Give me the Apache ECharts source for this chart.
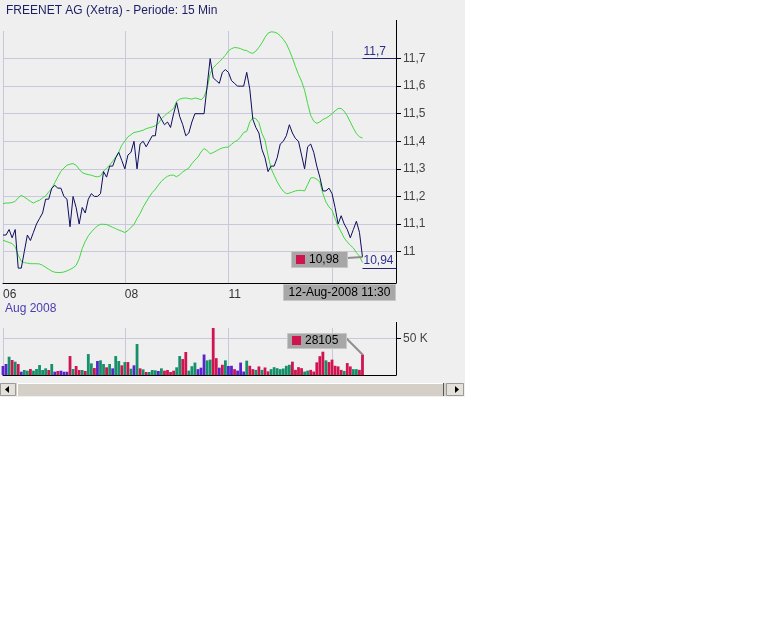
<!DOCTYPE html>
<html><head><meta charset="utf-8">
<script src="https://cdn.jsdelivr.net/npm/echarts@6/dist/echarts.min.js"></script>
<style>
html,body{margin:0;padding:0;background:#fff;}
#panel{position:absolute;left:0;top:0;width:465px;height:397px;background:#efefef;}
#chart{position:absolute;left:0;top:0;width:775px;height:621px;}
</style></head><body>
<div id="panel"></div><div id="chart"></div>
<script>
// ---------- data ----------
const titleText = 'FREENET AG (Xetra) - Periode: 15 Min';
const dayLabels = ['06-Aug-2008','07-Aug-2008','08-Aug-2008','11-Aug-2008','12-Aug-2008'];
const dayFirstSlot = [28, 0, 0, 0, 0];
const daySlotCount = [6, 34, 34, 34, 22];
const xTickIdx = [0, 40, 74, 108];
const xTickLabels = ['06', '08', '11', '12'];
const monthLabel = 'Aug 2008';
const priceTicks = [11.0, 11.1, 11.2, 11.3, 11.4, 11.5, 11.6, 11.7];
const priceTickLabels = ['11', '11,1', '11,2', '11,3', '11,4', '11,5', '11,6', '11,7'];
const volTicks = [50000];
const volTickLabels = ['50 K'];

const price = [
 11.06, 11.06, 11.08, 11.05, 11.08, 10.94, 10.94, 11.00, 11.06, 11.04,
 11.07, 11.10, 11.12, 11.14, 11.19, 11.19, 11.23, 11.24, 11.23, 11.23,
 11.20, 11.19, 11.09, 11.20, 11.16, 11.10, 11.16, 11.14, 11.19, 11.21,
 11.20, 11.20, 11.21, 11.29, 11.27, 11.31, 11.31, 11.34, 11.36, 11.33,
 11.30, 11.35, 11.36, 11.40, 11.30, 11.39, 11.40, 11.38, 11.40, 11.42,
 11.42, 11.50, 11.48, 11.46, 11.47, 11.45, 11.50, 11.54, 11.49, 11.46,
 11.42, 11.43, 11.47, 11.50, 11.50, 11.50, 11.50, 11.60, 11.70, 11.63,
 11.62, 11.61, 11.65, 11.66, 11.65, 11.62, 11.61, 11.60, 11.60, 11.60,
 11.65, 11.59, 11.48, 11.45, 11.43, 11.37, 11.34, 11.29, 11.31, 11.31,
 11.34, 11.39, 11.40, 11.42, 11.46, 11.43, 11.41, 11.40, 11.35, 11.30,
 11.38, 11.39, 11.36, 11.31, 11.27, 11.22, 11.22, 11.23, 11.21, 11.16,
 11.10, 11.13, 11.10, 11.08, 11.05, 11.08, 11.11, 11.07, 10.98];

const upperBand = [
 11.174, 11.176, 11.176, 11.178, 11.182, 11.195, 11.204, 11.198, 11.190, 11.182,
 11.176, 11.182, 11.186, 11.195, 11.202, 11.216, 11.228, 11.250, 11.271, 11.291,
 11.303, 11.313, 11.317, 11.319, 11.313, 11.299, 11.286, 11.282, 11.279, 11.277,
 11.273, 11.271, 11.274, 11.291, 11.303, 11.313, 11.328, 11.343, 11.361, 11.386,
 11.401, 11.416, 11.424, 11.432, 11.434, 11.437, 11.440, 11.446, 11.449, 11.452,
 11.456, 11.464, 11.482, 11.492, 11.502, 11.510, 11.519, 11.545, 11.553, 11.556,
 11.557, 11.555, 11.553, 11.557, 11.555, 11.550, 11.561, 11.591, 11.646, 11.666,
 11.678, 11.688, 11.700, 11.712, 11.728, 11.736, 11.740, 11.739, 11.736, 11.731,
 11.729, 11.722, 11.719, 11.727, 11.741, 11.757, 11.777, 11.792, 11.797, 11.796,
 11.792, 11.783, 11.770, 11.754, 11.730, 11.702, 11.671, 11.642, 11.618, 11.585,
 11.537, 11.494, 11.473, 11.465, 11.470, 11.479, 11.484, 11.491, 11.500, 11.510,
 11.519, 11.519, 11.509, 11.492, 11.470, 11.448, 11.428, 11.416, 11.412];

const lowerBand = [
 11.041, 11.037, 11.033, 11.029, 11.017, 10.987, 10.965, 10.960, 10.958, 10.956,
 10.956, 10.956, 10.955, 10.950, 10.943, 10.936, 10.929, 10.925, 10.924, 10.924,
 10.926, 10.930, 10.935, 10.941, 10.950, 10.974, 11.011, 11.037, 11.057, 11.071,
 11.083, 11.093, 11.099, 11.099, 11.098, 11.093, 11.088, 11.083, 11.078, 11.074,
 11.069, 11.076, 11.088, 11.098, 11.120, 11.138, 11.161, 11.180, 11.198, 11.214,
 11.226, 11.241, 11.255, 11.265, 11.273, 11.277, 11.277, 11.271, 11.279, 11.289,
 11.296, 11.303, 11.319, 11.332, 11.343, 11.361, 11.374, 11.366, 11.355, 11.359,
 11.365, 11.371, 11.376, 11.378, 11.379, 11.389, 11.398, 11.404, 11.416, 11.432,
 11.436, 11.470, 11.485, 11.482, 11.468, 11.428, 11.404, 11.349, 11.301, 11.277,
 11.253, 11.234, 11.219, 11.210, 11.212, 11.216, 11.220, 11.222, 11.222, 11.220,
 11.243, 11.267, 11.268, 11.262, 11.253, 11.210, 11.180, 11.162, 11.150, 11.120,
 11.092, 11.071, 11.049, 11.035, 11.023, 11.013, 10.996, 10.984, 10.960];

const volume = [
 12300, 15000, 25000, 20500, 18200, 15000, 4500, 6800, 5900, 8200,
 5900, 8200, 13600, 6800, 9100, 6800, 15000, 4500, 5500, 5900,
 4500, 4500, 25900, 8200, 12300, 6800, 6800, 5500, 28600, 15900,
 9500, 19100, 20000, 15000, 10500, 15000, 9100, 25900, 19100, 13200,
 17700, 17700, 8600, 13200, 42300, 9100, 7700, 4100, 4100, 6800,
 6400, 5500, 9100, 5900, 6800, 4100, 5900, 10500, 25900, 21800,
 31400, 6000, 12000, 17000, 8000, 10000, 28000, 20000, 21000, 64200,
 23000, 10000, 14000, 20000, 12300, 12600, 8000, 6000, 17000, 4700,
 19600, 12600, 8000, 7000, 11700, 7000, 10300, 5000, 8000, 10700,
 9300, 8000, 8900, 12600, 14000, 18200, 7000, 10700, 9300, 4700,
 6000, 7000, 4700, 17300, 25700, 31800, 20000, 17700, 21000, 12600,
 11700, 7000, 5600, 16300, 11700, 8000, 8000, 7000, 28105];

// direction of each volume bar: u = up, d = down, n = unchanged
const volDir = [
 'n','n','u','d','u','d','n','u','u','d',
 'u','u','u','u','u','d','u','n','d','n',
 'n','n','d','u','d','d','u','d','u','u',
 'd','n','u','u','d','u','n','u','u','d',
 'u','d','u','n','u','d','u','d','u','u',
 'u','n','u','d','d','d','d','u','u','d',
 'd','u','u','u','n','n','n','u','u','d',
 'd','n','d','u','n','n','d','n','n','n',
 'u','d','d','u','d','u','d','d','u','u',
 'u','u','u','u','u','d','d','d','d','u',
 'u','d','d','d','d','d','u','d','d','d',
 'd','d','u','d','d','u','u','d','d'];

// ---------- build ----------
function slotTime(s) {
  const m = 9 * 60 + s * 15;
  return String(Math.floor(m / 60)).padStart(2, '0') + ':' + String(m % 60).padStart(2, '0');
}
const categories = [];
dayLabels.forEach((d, k) => {
  for (let s = dayFirstSlot[k]; s < dayFirstSlot[k] + daySlotCount[k]; s++) categories.push(d + ' ' + slotTime(s));
});
const nCat = categories.length;
const lastIdx = price.length - 1;

const FONT = '"Liberation Sans", Arial, sans-serif';
const GRID = '#c8c8dc';
const GREEN = '#3fd83f';
const NAVY = '#0c0c5e';
const DIR_COLORS = {u: '#15906a', d: '#cf1450', n: '#5a24cc'};
const priceMin = 10.886, priceMax = 11.8;

const isTick = (idx) => xTickIdx.indexOf(idx) >= 0;
const fmtNum = v => String(+(+v).toFixed(2)).replace('.', ',');
const fmtPrice = v => { const k = priceTicks.findIndex(t => Math.abs(t - v) < 1e-6); return k < 0 ? '' : priceTickLabels[k]; };
const fmtVol = v => { const k = volTicks.findIndex(t => Math.abs(t - v) < 1e-6); return k < 0 ? '' : volTickLabels[k]; };
const hi = Math.max(...price), lo = Math.min(...price);

const chart = echarts.init(document.getElementById('chart'));
const option = {
  animation: false,
  backgroundColor: 'transparent',
  textStyle: {fontFamily: FONT},
  title: {text: titleText, left: 6, top: 5, padding: 0,
    textStyle: {fontSize: 12, fontWeight: 'normal', color: '#1e1e66', fontFamily: FONT}},
  grid: [
    {left: 3, top: 31, width: 393, height: 252},
    {left: 3, top: 328, width: 393, height: 47}
  ],
  xAxis: [
    {type: 'category', gridIndex: 0, data: categories, boundaryGap: false,
     axisLine: {lineStyle: {color: '#000', width: 1}}, axisTick: {show: false},
     axisLabel: {interval: isTick, align: 'left', margin: 5, color: '#333', fontSize: 12, fontFamily: FONT,
       formatter: (value) => {
         const k = xTickIdx.indexOf(categories.indexOf(value));
         if (k < 0) return '';
         return k === 0 ? '{d|' + xTickLabels[0] + '}\n{m|' + monthLabel + '}' : '{d|' + xTickLabels[k] + '}';
       },
       rich: {d: {fontSize: 12, lineHeight: 14, color: '#333', fontFamily: FONT},
              m: {fontSize: 12, lineHeight: 14, color: '#4b3cb0', fontFamily: FONT, padding: [0, 0, 0, 2]}}},
     splitLine: {show: true, interval: isTick, lineStyle: {color: GRID, width: 1}}},
    {type: 'category', gridIndex: 1, data: categories, boundaryGap: false,
     axisLine: {lineStyle: {color: '#000', width: 1}}, axisTick: {show: false}, axisLabel: {show: false},
     splitLine: {show: true, interval: isTick, lineStyle: {color: GRID, width: 1}}}
  ],
  yAxis: [
    {type: 'value', gridIndex: 0, position: 'right', min: priceMin, max: priceMax,
     minInterval: 0.1, maxInterval: 0.1, splitNumber: 9,
     axisLine: {show: true, lineStyle: {color: '#000', width: 1}},
     axisTick: {show: true, length: 5, lineStyle: {color: '#000'}, customValues: priceTicks},
     axisLabel: {formatter: fmtPrice, color: '#444', fontSize: 12, margin: 7, fontFamily: FONT, customValues: priceTicks},
     splitLine: {show: true, lineStyle: {color: GRID, width: 1}}},
    {type: 'value', gridIndex: 1, position: 'right', min: 0, max: 'dataMax',
     minInterval: 50000, maxInterval: 50000,
     axisLine: {show: true, lineStyle: {color: '#000', width: 1}},
     axisTick: {show: true, length: 5, lineStyle: {color: '#000'}, customValues: volTicks},
     axisLabel: {formatter: fmtVol, color: '#444', fontSize: 12, margin: 7, fontFamily: FONT, customValues: volTicks},
     splitLine: {show: true, lineStyle: {color: GRID, width: 1}}}
  ],
  series: [
    {name: 'upper', type: 'line', xAxisIndex: 0, yAxisIndex: 0, data: upperBand, symbol: 'none',
     lineStyle: {color: GREEN, width: 1}, silent: true},
    {name: 'lower', type: 'line', xAxisIndex: 0, yAxisIndex: 0, data: lowerBand, symbol: 'none',
     lineStyle: {color: GREEN, width: 1}, silent: true},
    {name: 'price', type: 'line', xAxisIndex: 0, yAxisIndex: 0, data: price, symbol: 'none',
     lineStyle: {color: NAVY, width: 1}, silent: true, z: 3,
     markLine: {silent: true, symbol: ['none', 'none'], animation: false,
       lineStyle: {color: '#23236e', width: 1, type: 'solid'},
       label: {show: true, position: 'insideStartTop', distance: 1, formatter: p => fmtNum(p.value),
               color: '#2e2e8a', fontSize: 12, fontFamily: FONT},
       emphasis: {disabled: true},
       data: [
         [{coord: [lastIdx, hi], value: hi}, {coord: [nCat - 1, hi]}],
         [{coord: [lastIdx, lo], value: lo}, {coord: [nCat - 1, lo]}]
       ]}},
    {name: 'volume', type: 'bar', xAxisIndex: 1, yAxisIndex: 1, data: volume, barWidth: 2.8, silent: true,
     itemStyle: {color: p => DIR_COLORS[volDir[p.dataIndex]]},
     markLine: {silent: true, symbol: ['none', 'none'], animation: false, z: 1,
       lineStyle: {color: GRID, width: 1, type: 'solid'}, label: {show: false}, emphasis: {disabled: true},
       data: volTicks.map(v => ({yAxis: v}))}}
  ]
};
chart.setOption(option);

// ---------- annotations placed from data ----------
const pP = chart.convertToPixel({xAxisIndex: 0, yAxisIndex: 0}, [lastIdx, price[lastIdx]]);
const pV = chart.convertToPixel({xAxisIndex: 1, yAxisIndex: 1}, [lastIdx, volume[lastIdx]]);
const pTop = chart.convertToPixel({xAxisIndex: 0, yAxisIndex: 0}, [nCat - 1, priceMax]);
const pBot = chart.convertToPixel({xAxisIndex: 0, yAxisIndex: 0}, [nCat - 1, priceMin]);
const vTop = chart.convertToPixel({xAxisIndex: 1, yAxisIndex: 1}, [nCat - 1, Math.max(...volume)]);
const ax = Math.round(pTop[0]) + 0.5;
const BOX = '#a7a7a7', BOXS = '#c6c6c6', RED = '#cf1450';
const txt = (x, y, text, align) => ({type: 'text', x: x, y: y, z: 110,
  style: {text: text, fill: '#000', fontSize: 12, fontFamily: FONT, verticalAlign: 'middle', align: align || 'left'}});

const bx = Math.round(pP[0]) - 71, by = Math.round(pP[1]) - 6;
const vx = Math.round(pV[0]) - 75, vy = Math.round(pV[1]) - 21;
const dx = Math.round(pBot[0]) - 113, dy = Math.round(pBot[1]) + 1;

const graphics = [
  {type: 'line', z: 100, shape: {x1: ax, y1: pTop[1] - 11, x2: ax, y2: pTop[1]}, style: {stroke: '#000', lineWidth: 1}},
  {type: 'line', z: 100, shape: {x1: ax, y1: vTop[1] - 6, x2: ax, y2: vTop[1]}, style: {stroke: '#000', lineWidth: 1}},
  // last price box
  {type: 'line', z: 105, shape: {x1: bx + 56, y1: by + 7, x2: pP[0], y2: pP[1]}, style: {stroke: '#8e8e8e', lineWidth: 2}},
  {type: 'rect', z: 106, shape: {x: bx + 0.5, y: by + 0.5, width: 56, height: 16}, style: {fill: BOX, stroke: BOXS, lineWidth: 1}},
  {type: 'rect', z: 107, shape: {x: bx + 5, y: by + 4, width: 9, height: 9}, style: {fill: RED}},
  txt(bx + 18, by + 8.5, fmtNum(price[lastIdx])),
  // last volume box
  {type: 'line', z: 105, shape: {x1: vx + 58, y1: vy + 4, x2: pV[0], y2: pV[1]}, style: {stroke: '#8e8e8e', lineWidth: 2}},
  {type: 'rect', z: 106, shape: {x: vx + 0.5, y: vy + 0.5, width: 59, height: 15}, style: {fill: BOX, stroke: BOXS, lineWidth: 1}},
  {type: 'rect', z: 107, shape: {x: vx + 5, y: vy + 3, width: 9, height: 9}, style: {fill: RED}},
  txt(vx + 18, vy + 8, String(volume[lastIdx])),
  // date box
  {type: 'rect', z: 106, shape: {x: dx + 0.5, y: dy + 0.5, width: 112, height: 16}, style: {fill: BOX, stroke: BOXS, lineWidth: 1}},
  txt(dx + 56.5, dy + 9, categories[lastIdx], 'center'),
  // scrollbar
  {type: 'rect', z: 90, shape: {x: 0, y: 383, width: 464, height: 13}, style: {fill: '#d4d0c8'}},
  {type: 'line', z: 91, shape: {x1: 17, y1: 383.5, x2: 444, y2: 383.5}, style: {stroke: '#ffffff', lineWidth: 1}},
  {type: 'line', z: 91, shape: {x1: 17.5, y1: 383, x2: 17.5, y2: 396}, style: {stroke: '#ffffff', lineWidth: 1}},
  {type: 'line', z: 91, shape: {x1: 443.5, y1: 383, x2: 443.5, y2: 396}, style: {stroke: '#555555', lineWidth: 1}},
  {type: 'rect', z: 91, shape: {x: 0.5, y: 383.5, width: 15, height: 12}, style: {fill: '#e4e1da', stroke: '#9a9a9a', lineWidth: 1}},
  {type: 'polygon', z: 92, shape: {points: [[5, 389.5], [9, 386], [9, 393]]}, style: {fill: '#000'}},
  {type: 'rect', z: 91, shape: {x: 446.5, y: 383.5, width: 17, height: 12}, style: {fill: '#e4e1da', stroke: '#9a9a9a', lineWidth: 1}},
  {type: 'polygon', z: 92, shape: {points: [[459, 389.5], [455, 386], [455, 393]]}, style: {fill: '#000'}}
];
chart.setOption({graphic: {elements: graphics}});
</script></body></html>
